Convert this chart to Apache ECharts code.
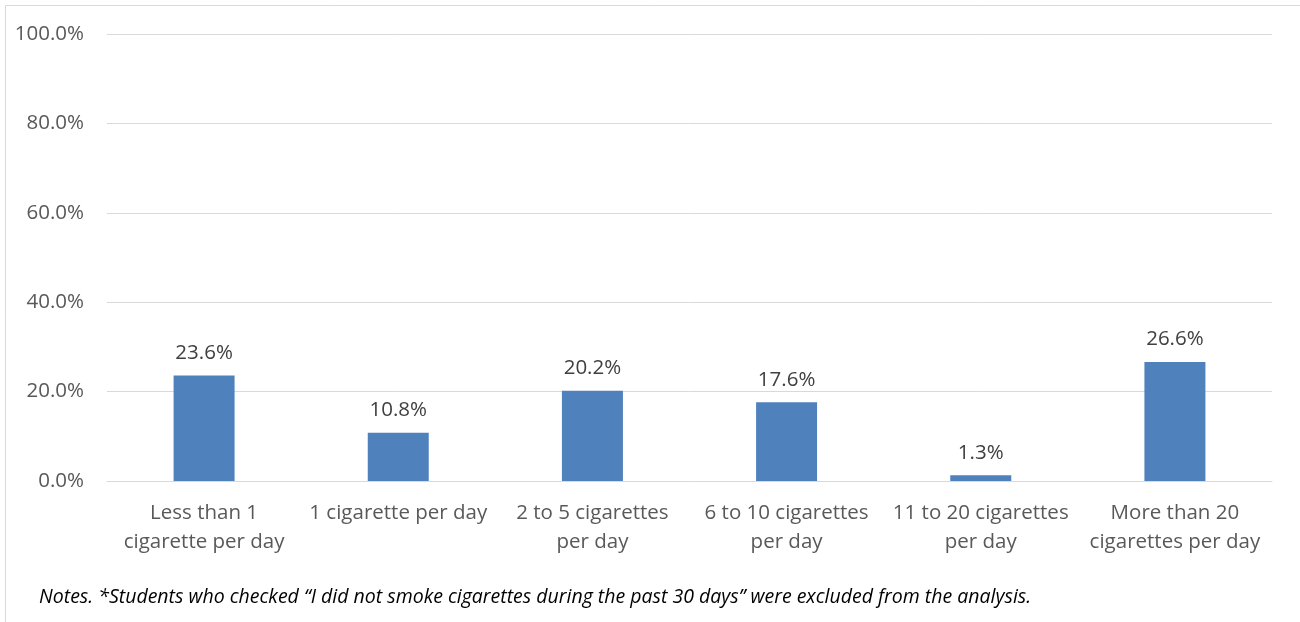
<!DOCTYPE html>
<html><head><meta charset="utf-8">
<script src="https://cdn.jsdelivr.net/npm/echarts@6/dist/echarts.min.js"></script>
<style>html,body{margin:0;padding:0;background:#fff}#c{width:1300px;height:622px}</style>
</head><body><div id="c"></div>
<script>
const categories = ["Less than 1\ncigarette per day","1 cigarette per day","2 to 5 cigarettes\nper day","6 to 10 cigarettes\nper day","11 to 20 cigarettes\nper day","More than 20\ncigarettes per day"];
const values = [23.6, 10.8, 20.2, 17.6, 1.3, 26.6];
const yTicks = [0, 20, 40, 60, 80, 100];
const note = "Notes. *Students who checked \u201cI did not smoke cigarettes during the past 30 days\u201d were excluded from the analysis.";
const FONT = "'Open Sans', 'Noto Sans', sans-serif";
const chart = echarts.init(document.getElementById('c'));
chart.setOption({
  animation: false,
  graphic: [
    {type:'rect', shape:{x:5.5,y:5.5,width:1320,height:640}, style:{fill:'none',stroke:'#d9d9d9',lineWidth:1}},
    {type:'text', left:39, top:587, style:{text:note, font:"italic 19.5px "+FONT, fill:'#000'}}
  ],
  grid:{left:107,right:28,top:34,bottom:141},
  xAxis:{type:'category',data:categories,
    axisLine:{lineStyle:{color:'#d9d9d9'}},axisTick:{show:false},
    axisLabel:{color:'#595959',fontSize:20.5,fontFamily:FONT,lineHeight:29,margin:18,interval:0}},
  yAxis:{type:'value',min:yTicks[0],max:yTicks[yTicks.length-1],interval:20,
    axisLine:{show:false},axisTick:{show:false},
    splitLine:{lineStyle:{color:'#d9d9d9'}},
    axisLabel:{color:'#595959',fontSize:20.5,fontFamily:FONT,margin:23,formatter:v=>v.toFixed(1)+'%'}},
  series:[{type:'bar',data:values,barWidth:61,itemStyle:{color:'#4F81BD'},
    label:{show:true,position:'top',distance:12,color:'#404040',fontSize:20.5,fontFamily:FONT,formatter:p=>p.value.toFixed(1)+'%'}}]
});
</script></body></html>
